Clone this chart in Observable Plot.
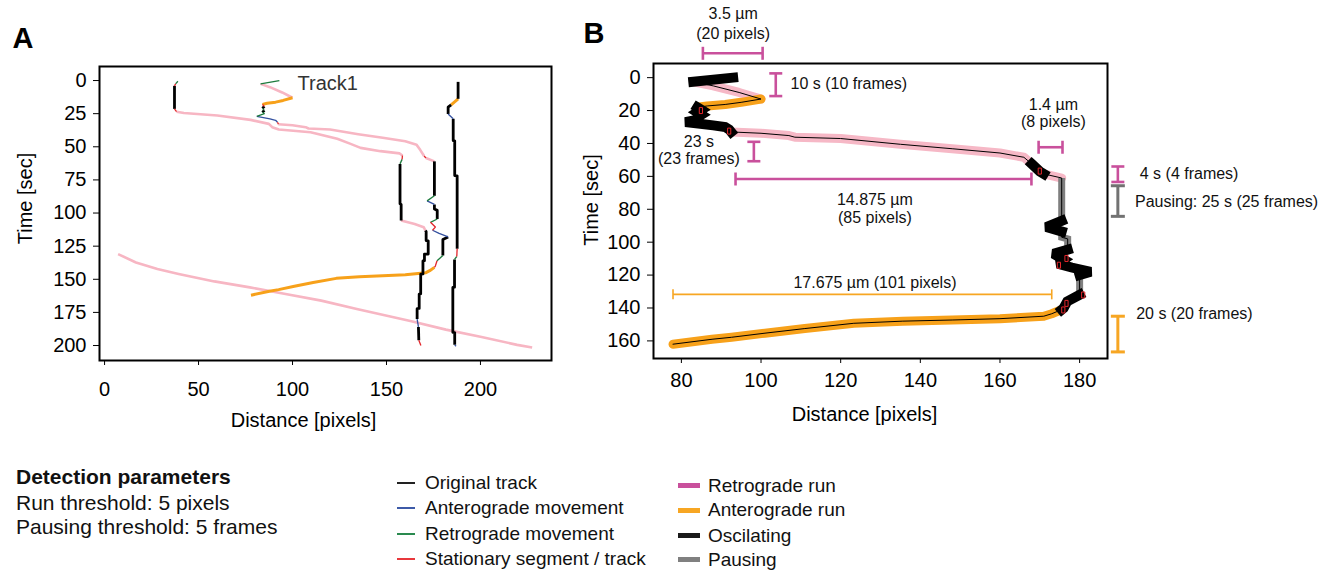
<!DOCTYPE html>
<html><head><meta charset="utf-8">
<script src="https://cdn.jsdelivr.net/npm/d3@7"></script>
<script src="https://cdn.jsdelivr.net/npm/@observablehq/plot@0.6"></script>
<style>
body{margin:0;background:#fff;font-family:"Liberation Sans",Arial,sans-serif;}
#root{position:relative;width:1327px;height:573px;overflow:hidden;background:#fff;}
#pa{position:absolute;left:0;top:0;}
#pb{position:absolute;left:570px;top:0;}
.lg{position:absolute;font-size:19px;line-height:20px;white-space:nowrap;color:#111;}
.lg.big{font-size:21px;line-height:22px;}
.sw{position:absolute;}
</style></head><body><div id="root"><div id="pa"></div><div id="pb"></div></div>
<script>
// ---------- tick labels ----------
const aTicksX = [0, 50, 100, 150, 200];
const aTicksY = [0, 25, 50, 75, 100, 125, 150, 175, 200];
const bTicksX = [80, 100, 120, 140, 160, 180];
const bTicksY = [0, 20, 40, 60, 80, 100, 120, 140, 160];

// ---------- Track 1 (shown in A and B) ----------
const t1X = [93,83,88,94.5,100,95,91,86.5,84,85,84,85,84,85,81,88,91,92,92.5,100,107,108.5,120,135,148,160,166,168,170,171,175.5,175.5,171.6,175.5,175.5,177,177,173.4,176,174.5,178,182.8,180,180,176.9,176,175.5,173,171,160,148,135.6,123.3,111,101,92.6,87.7,77.9];
const t1T = [0,2.5,5,9,13,15,16.3,17.2,18,19.5,21,22.5,24,25,27,29,30,31.5,33,33.8,35.2,36.2,37,40.5,43.2,45.8,48.4,52.5,57,58.5,61,87,90.8,93.5,97,98,104.5,107,110.6,113,115.4,118,120,132,136,140,141,143.5,145,146.5,147.3,148,149.3,152.5,155.3,157.8,159,162];
// segment classes in panel A: k original, b anterograde, g retrograde, r stationary, p retrograde run, o anterograde run
const t1ClassA = ["g","p","p","p","o","o","o","o","r","k","g","k","g","g","b","b","b","r","p","p","p","p","p","p","p","p","p","p","r","p","k","g","b","k","k","k","g","r","r","b","b","k","k","g","r","r","o","o","o","o","o","o","o","o","o","o","o"];
// segment classes in panel B
const t1ClassB = ["osc","retro","retro","retro","antero","antero","antero","antero","osc","osc","osc","osc","osc","osc","osc","osc","osc","osc","retro","retro","retro","retro","retro","retro","retro","retro","retro","osc","osc","retro","pause","osc","osc","pause","pause","pause","osc","osc","osc","osc","osc","osc","pause","osc","osc","osc","antero","antero","antero","antero","antero","antero","antero","antero","antero","antero","antero"];

// ---------- Track 2 ----------
const t2X = [39,37.8,37.2,37.2,38.3,42.2,60,77.7,87.4,89.2,92.7,109.6,123.8,130.9,136.2,146.8,157,158.5,158.3,157.2,157.2,157.8,157.8,165,169.8,170.7,171.1,171.1,172.2,172.2,170.2,170.2,169.4,169.4,168.2,168.2,167.4,167.4,166.3,166.3,167,167.2,168.3];
const t2T = [0.5,2.5,4,21.4,23.5,24.5,26.4,29.7,32.7,35.2,37,39,44,47.8,50.8,53.3,55,56.6,59.5,62.9,93,93.5,105.7,108.3,110.7,113.2,114,120.8,121,130.9,131,136,136.2,146,146.2,161,161.2,172,172.2,180,186,196,200];
const t2ClassA = ["g","r","k","r","p","p","p","p","p","p","p","p","p","p","p","p","p","r","g","k","k","k","p","p","p","k","k","k","k","k","k","k","k","k","k","k","k","k","k","b","k","r"];

// ---------- Track 3 ----------
const t3X = [188.1,188.1,184.4,182.8,182.8,185.5,185.5,186.3,186.3,187.6,187.6,187.4,186.2,186.2,185.3,185.3,186.3,186.3,187];
const t3T = [1,13.8,18.3,20.1,25.2,28.9,45.3,45.5,71.7,71.9,127,132.8,135,156,156.2,190,190.2,199.5,200.5];
const t3ClassA = ["k","o","k","k","b","k","k","k","k","k","r","g","k","k","k","k","k","b"];

// ---------- Track 4 (long retrograde run) ----------
const t4X = [7.2,16.7,28.1,39.4,58.4,77.3,96.3,115.3,134.2,153.2,162.7,181.6,200.6,219.5,227.5];
const t4T = [131,137.3,142.3,146,151.6,156.1,161.1,166.1,172.5,178.4,181.5,188,193.5,199.5,201.5];
const t4ClassA = ["p","p","p","p","p","p","p","p","p","p","p","p","p","p"];

// ---------- Panel B annotations ----------
const stationaryX = [84.9, 92, 170, 176.7, 174.8, 180.9, 176.7, 175.9];
const stationaryT = [20, 32.5, 56.8, 109.9, 114, 132.1, 137.2, 141.2];
const hBracketX1 = [85.4, 169.7, 93.6, 77.9];
const hBracketX2 = [100.4, 175.7, 167.9, 173];
const hBracketT = [-14.8, 42.3, 61.6, 131.7];
const hBracketKind = ["retro", "retro", "retro", "anteroThin"];
const vBracketX = [103.7, 98.2, 189.6, 189.6, 189.6];
const vBracketT1 = [-2.6, 39, 54, 65.7, 145];
const vBracketT2 = [11.2, 50.8, 63.4, 84.3, 166.7];
const vBracketKind = ["retro", "retro", "retro", "pause", "antero"];
const annText = ["3.5 µm","(20 pixels)","10 s (10 frames)","1.4 µm","(8 pixels)","23 s","(23 frames)","14.875 µm","(85 pixels)","4 s (4 frames)","Pausing: 25 s (25 frames)","17.675 µm (101 pixels)","20 s (20 frames)"];
const annX = [93, 93, 107.4, 173.4, 173.4, 84.4, 84.4, 128.6, 128.6, 195.1, 193.9, 128.6, 194.2];
const annT = [-38.6, -26.8, 3.7, 16.3, 27, 39.2, 49.4, 74.2, 85, 58.3, 75.8, 125, 143.3];
const annAnchor = ["middle","middle","start","middle","middle","middle","middle","middle","middle","start","start","middle","start"];

// ---------- Legends ----------
const paramLines = ["Detection parameters", "Run threshold: 5 pixels", "Pausing threshold: 5 frames"];
const legendA = ["Original track", "Anterograde movement", "Retrograde movement", "Stationary segment / track"];
const legendAKeys = ["k", "b", "g", "r"];
const legendB = ["Retrograde run", "Anterograde run", "Oscilating", "Pausing"];
const legendBKeys = ["retroLegend", "antero", "osc", "pause"];

// ---------- styles ----------
const font = "Liberation Sans, Arial, Helvetica, sans-serif";
const aStyle = {
  p: {stroke: "#f7b6c3", w: 2.6}, o: {stroke: "#f7a11a", w: 3},
  k: {stroke: "#000000", w: 2.8}, b: {stroke: "#33509f", w: 1.3},
  g: {stroke: "#1d7b3d", w: 1.3}, r: {stroke: "#e3262b", w: 1.3}
};
const aOrder = ["p", "o", "k", "b", "g", "r"];
const bStyle = {
  retro: {stroke: "#f6b8c6", w: 9, cap: "round", join: "round"},
  antero: {stroke: "#f7a11a", w: 9, cap: "round", join: "round"},
  pause: {stroke: "#7f7f7f", w: 7, cap: "butt", join: "miter"},
  osc: {stroke: "#000000", w: 10, cap: "square", join: "miter"}
};
const bOrder = ["retro", "antero", "pause", "osc"];
const bracketStyle = {
  retro: {stroke: "#c9509c", w: 2.6, cap: 6.5},
  anteroThin: {stroke: "#f7a623", w: 1.6, cap: 5},
  antero: {stroke: "#f7a623", w: 3, cap: 7},
  pause: {stroke: "#727272", w: 3, cap: 7}
};

function runs(name, X, T, C) {
  const rows = []; let run = -1, prev = null;
  for (let i = 0; i < C.length; i++) {
    if (C[i] !== prev) { run++; prev = C[i]; rows.push({x: X[i], t: T[i], c: C[i], run: name + run}); }
    rows.push({x: X[i + 1], t: T[i + 1], c: C[i], run: name + run});
  }
  return rows;
}

const vcap = {draw(ctx, size) { const r = Math.sqrt(size / Math.PI); ctx.moveTo(0, -r); ctx.lineTo(0, r); }};
const hcap = {draw(ctx, size) { const r = Math.sqrt(size / Math.PI); ctx.moveTo(-r, 0); ctx.lineTo(r, 0); }};
const box = {draw(ctx) { ctx.moveTo(-1.6, -3); ctx.lineTo(1.6, -3); ctx.lineTo(1.6, 3); ctx.lineTo(-1.6, 3); ctx.closePath(); }};

const plotStyle = {fontFamily: font, fontSize: "20px", background: "transparent", overflow: "visible", color: "black"};

// ---------- Panel A ----------
const aRows = [
  ...runs("t4_", t4X, t4T, t4ClassA),
  ...runs("t2_", t2X, t2T, t2ClassA),
  ...runs("t1_", t1X, t1T, t1ClassA),
  ...runs("t3_", t3X, t3T, t3ClassA)
];

const plotA = Plot.plot({
  width: 570, height: 440,
  marginLeft: 99, marginRight: 19, marginTop: 66, marginBottom: 80,
  style: plotStyle,
  x: {domain: [-2.7, 237.8], ticks: aTicksX, tickSize: 5, tickPadding: 16, label: null},
  y: {domain: [-10.6, 211.3], reverse: true, ticks: aTicksY, tickSize: 6, tickPadding: 7, label: null},
  marks: [
    ...aOrder.map(c => Plot.line(aRows.filter(d => d.c === c), {
      x: "x", y: "t", z: "run", stroke: aStyle[c].stroke, strokeWidth: aStyle[c].w,
      strokeLinejoin: "round", strokeLinecap: "butt"
    })),
    Plot.text(["Track1"], {x: [102.7], y: [2.3], text: d => d, textAnchor: "start", lineAnchor: "middle", fontSize: 20, fill: "#333"}),
    Plot.frame({stroke: "black", strokeWidth: 2}),
    Plot.text(["Distance [pixels]"], {frameAnchor: "bottom", textAnchor: "middle", dx: -22, dy: 60, lineAnchor: "middle", fontSize: 20}),
    Plot.text(["Time [sec]"], {frameAnchor: "left", textAnchor: "middle", rotate: -90, dx: -74, dy: -15, lineAnchor: "middle", fontSize: 20}),
    Plot.text(["A"], {frameAnchor: "top-left", textAnchor: "start", dx: -87, dy: -28, lineAnchor: "middle", fontSize: 29, fontWeight: "bold"})
  ]
});
document.getElementById("pa").appendChild(plotA);

// ---------- Panel B ----------
const bRows = runs("b1_", t1X, t1T, t1ClassB);
const trackPts = t1X.map((x, i) => ({x, t: t1T[i]}));
const hb = hBracketX1.map((x1, i) => ({x1, x2: hBracketX2[i], t: hBracketT[i], k: hBracketKind[i]}));
const vb = vBracketX.map((x, i) => ({x, t1: vBracketT1[i], t2: vBracketT2[i], k: vBracketKind[i]}));
const ann = annText.map((s, i) => ({s, x: annX[i], t: annT[i], a: annAnchor[i]}));

const bracketMarks = [];
for (const k of Object.keys(bracketStyle)) {
  const st = bracketStyle[k];
  const h = hb.filter(d => d.k === k), v = vb.filter(d => d.k === k);
  bracketMarks.push(
    Plot.link(h, {x1: "x1", x2: "x2", y1: "t", y2: "t", stroke: st.stroke, strokeWidth: st.w}),
    Plot.dot(h.flatMap(d => [{x: d.x1, t: d.t}, {x: d.x2, t: d.t}]), {x: "x", y: "t", symbol: vcap, r: st.cap, fill: "none", stroke: st.stroke, strokeWidth: st.w}),
    Plot.link(v, {x1: "x", x2: "x", y1: "t1", y2: "t2", stroke: st.stroke, strokeWidth: st.w}),
    Plot.dot(v.flatMap(d => [{x: d.x, t: d.t1}, {x: d.x, t: d.t2}]), {x: "x", y: "t", symbol: hcap, r: st.cap, fill: "none", stroke: st.stroke, strokeWidth: st.w})
  );
}

const plotB = Plot.plot({
  width: 757, height: 440,
  marginLeft: 83, marginRight: 220, marginTop: 63, marginBottom: 82,
  style: plotStyle,
  x: {domain: [73, 187], ticks: bTicksX, tickSize: 5, tickPadding: 9, label: null},
  y: {domain: [-8.6, 170.7], reverse: true, ticks: bTicksY, tickSize: 6, tickPadding: 7, label: null},
  marks: [
    ...bOrder.map(c => Plot.line(bRows.filter(d => d.c === c), {
      x: "x", y: "t", z: "run", stroke: bStyle[c].stroke, strokeWidth: bStyle[c].w,
      strokeLinejoin: bStyle[c].join, strokeLinecap: bStyle[c].cap, strokeMiterlimit: 2
    })),
    Plot.line(trackPts, {x: "x", y: "t", stroke: "#000", strokeWidth: 1}),
    Plot.dot(stationaryX.map((x, i) => ({x, t: stationaryT[i]})), {x: "x", y: "t", symbol: box, r: 3, fill: "none", stroke: "#e3262b", strokeWidth: 1}),
    ...bracketMarks,
    ...["start", "middle"].map(a => Plot.text(ann.filter(d => d.a === a), {x: "x", y: "t", text: "s", textAnchor: a, lineAnchor: "middle", fontSize: 16, fill: "#111"})),
    Plot.frame({stroke: "black", strokeWidth: 2}),
    Plot.text(["Distance [pixels]"], {frameAnchor: "bottom", textAnchor: "middle", dx: -16, dy: 56, lineAnchor: "middle", fontSize: 20}),
    Plot.text(["Time [sec]"], {frameAnchor: "left", textAnchor: "middle", rotate: -90, dx: -62, dy: -11, lineAnchor: "middle", fontSize: 20}),
    Plot.text(["B"], {frameAnchor: "top-left", textAnchor: "start", dx: -70, dy: -30, lineAnchor: "middle", fontSize: 29, fontWeight: "bold"})
  ]
});
document.getElementById("pb").appendChild(plotB);

// ---------- Legends (HTML) ----------
const root = document.getElementById("root");
function addText(s, left, cy, bold, big) {
  const d = document.createElement("div");
  d.className = big ? "lg big" : "lg"; d.textContent = s;
  d.style.left = left + "px"; d.style.top = (cy - (big ? 11 : 10)) + "px";
  if (bold) d.style.fontWeight = "bold";
  root.appendChild(d);
}
function addSwatch(color, left, cy, w, h) {
  const d = document.createElement("div");
  d.className = "sw"; d.style.background = color;
  d.style.left = left + "px"; d.style.top = (cy - h / 2) + "px";
  d.style.width = w + "px"; d.style.height = h + "px";
  root.appendChild(d);
}
const legendColor = {k: "#222", b: "#3d5aa8", g: "#2a8a4f", r: "#e8383c", retroLegend: "#c9509c", antero: "#f7a623", osc: "#1a1a1a", pause: "#808080"};
const paramY = [476.7, 502.5, 527];
paramLines.forEach((s, i) => addText(s, 16, paramY[i], i === 0, true));
const legAY = [483.3, 508.3, 533.5, 559.3];
legendA.forEach((s, i) => { addSwatch(legendColor[legendAKeys[i]], 397, legAY[i], 18, 2); addText(s, 425, legAY[i]); });
const legBY = [485.5, 510, 535.5, 559.5];
legendB.forEach((s, i) => { addSwatch(legendColor[legendBKeys[i]], 678, legBY[i], 22, 5); addText(s, 708, legBY[i]); });
</script></body></html>
